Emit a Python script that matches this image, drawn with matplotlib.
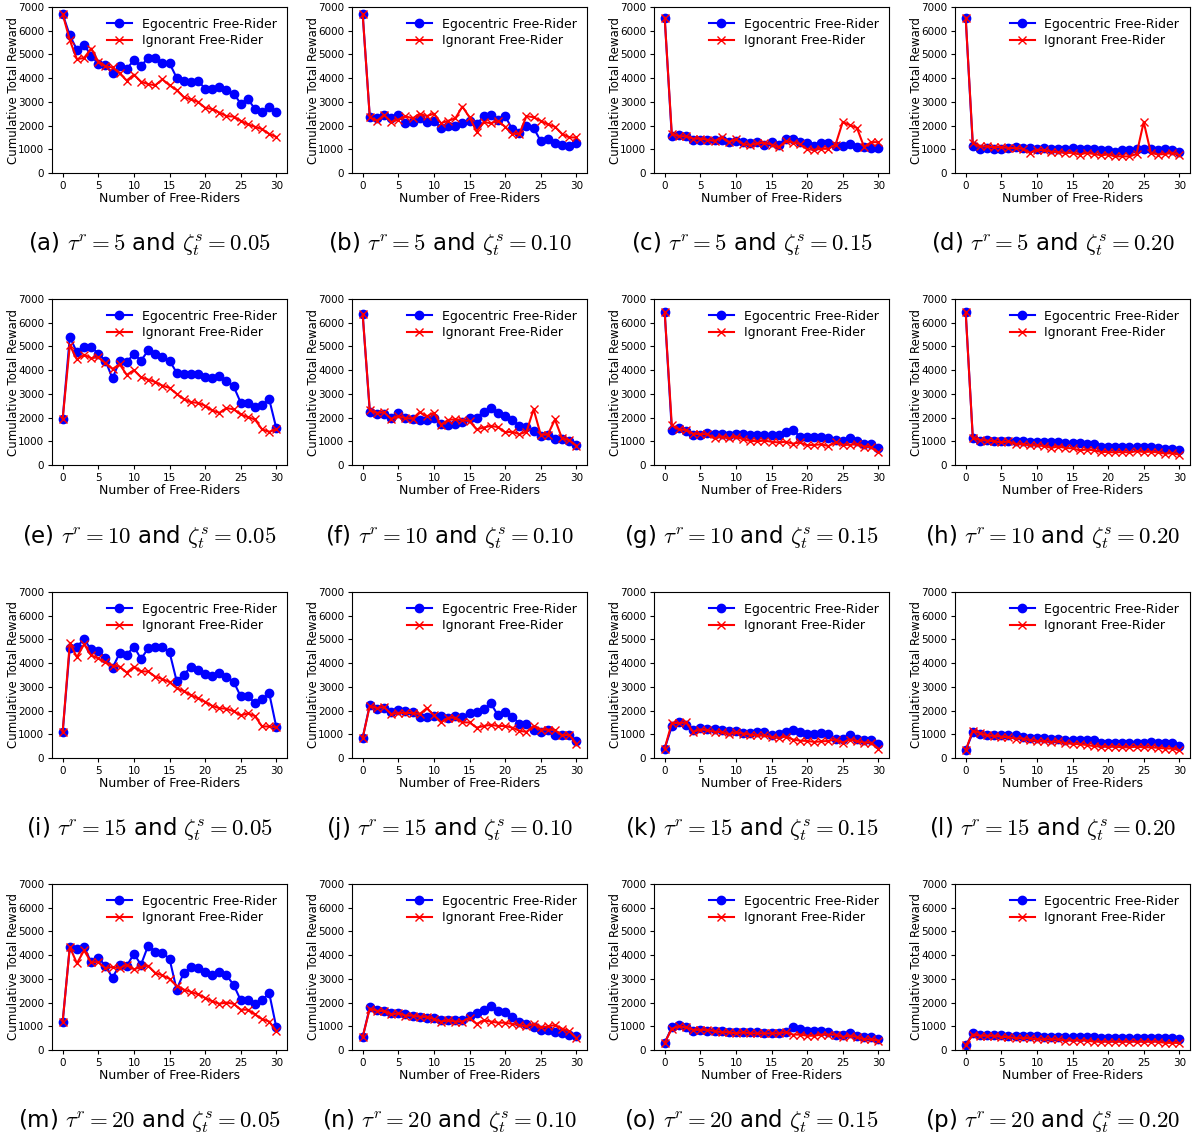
import numpy as np
import matplotlib
matplotlib.use('Agg')
from matplotlib import pyplot as plt

plt.rcParams['mathtext.fontset'] = 'cm'

## Data ##
x = np.arange(31)

# (a) tau=5, zeta=0.05
ego_a = [6700, 5800, 5200, 5400, 4950, 4600, 4550, 4200, 4500, 4400, 4750, 4500, 4870, 4830, 4650, 4630,
         4020, 3900, 3850, 3900, 3550, 3560, 3620, 3480, 3350, 2930, 3120, 2700, 2560, 2790, 2580]
ign_a = [6700, 5600, 4800, 4850, 5250, 4700, 4500, 4450, 4200, 3900, 4150, 3850, 3750, 3700, 3950, 3700,
         3500, 3200, 3100, 3000, 2750, 2700, 2550, 2400, 2380, 2200, 2050, 1950, 1850, 1650, 1520]
# (b) tau=5, zeta=0.10
ego_b = [6700, 2350, 2300, 2450, 2300, 2450, 2100, 2150, 2300, 2150, 2200, 1900, 1980, 2000, 2100, 2200,
         2050, 2400, 2450, 2250, 2400, 1850, 1700, 2000, 1900, 1350, 1450, 1250, 1200, 1150, 1280]
ign_b = [6700, 2350, 2200, 2450, 2150, 2250, 2400, 2300, 2500, 2400, 2500, 2100, 2200, 2300, 2800, 2350,
         1750, 2150, 2100, 2200, 1950, 1650, 1650, 2400, 2350, 2200, 2050, 1950, 1650, 1500, 1500]
# (c) tau=5, zeta=0.15
ego_c = [6550, 1550, 1600, 1550, 1400, 1380, 1400, 1380, 1380, 1300, 1350, 1300, 1280, 1300, 1180, 1300,
         1200, 1450, 1450, 1320, 1280, 1150, 1280, 1280, 1150, 1130, 1220, 1080, 1080, 1050, 1050]
ign_c = [6550, 1650, 1550, 1550, 1450, 1450, 1400, 1350, 1500, 1300, 1420, 1220, 1180, 1250, 1280, 1200,
         1080, 1350, 1280, 1220, 1000, 980, 1020, 1020, 1200, 2150, 2020, 1900, 1100, 1300, 1300]
# (d) tau=5, zeta=0.20
ego_d = [6550, 1150, 1020, 1050, 1020, 1020, 1050, 1080, 1050, 1050, 1020, 1050, 1020, 1000, 1020, 1050,
         1000, 1020, 1000, 950, 950, 900, 950, 950, 1000, 1000, 1000, 980, 1000, 980, 870]
ign_d = [6550, 1250, 1120, 1120, 1080, 1100, 1050, 1050, 1020, 850, 980, 950, 900, 880, 850, 850,
         780, 850, 800, 750, 780, 700, 700, 700, 800, 2150, 850, 780, 800, 850, 750]
# (e) tau=10, zeta=0.05
ego_e = [1950, 5400, 4750, 4980, 4980, 4700, 4400, 3650, 4400, 4350, 4680, 4400, 4830, 4680, 4550, 4400,
         3900, 3820, 3820, 3830, 3700, 3650, 3760, 3530, 3320, 2630, 2620, 2430, 2540, 2770, 1550]
ign_e = [1950, 5050, 4450, 4650, 4500, 4550, 4300, 4050, 4250, 3800, 4000, 3700, 3600, 3500, 3350, 3250,
         3000, 2780, 2650, 2620, 2500, 2300, 2200, 2400, 2350, 2130, 2020, 1920, 1500, 1400, 1500]
# (f) tau=10, zeta=0.10
ego_f = [6350, 2230, 2150, 2150, 2000, 2200, 2000, 1950, 1900, 1880, 2000, 1720, 1700, 1750, 1800, 2000,
         2000, 2250, 2420, 2180, 2070, 1900, 1650, 1600, 1420, 1230, 1270, 1100, 1080, 1000, 830]
ign_f = [6350, 2300, 2200, 2220, 1950, 2050, 1980, 1950, 2230, 2050, 2200, 1700, 1900, 1930, 1900, 1850,
         1500, 1580, 1650, 1600, 1380, 1400, 1300, 1400, 2350, 1280, 1280, 1920, 1120, 1050, 820]
# (g) tau=10, zeta=0.15
ego_g = [6450, 1480, 1560, 1450, 1280, 1250, 1350, 1320, 1300, 1250, 1300, 1320, 1280, 1280, 1250, 1250,
         1250, 1400, 1480, 1200, 1200, 1180, 1200, 1130, 1050, 1030, 1150, 1000, 900, 880, 720]
ign_g = [6450, 1680, 1500, 1480, 1320, 1300, 1300, 1120, 1200, 1120, 1200, 1080, 1020, 1000, 1030, 980,
         950, 980, 900, 950, 830, 850, 870, 800, 950, 850, 850, 880, 780, 750, 530]
# (h) tau=10, zeta=0.20
ego_h = [6450, 1150, 1030, 1050, 1000, 1000, 1000, 1000, 1000, 980, 980, 980, 950, 950, 920, 920,
         920, 900, 880, 780, 750, 750, 750, 750, 750, 750, 770, 700, 680, 680, 620]
ign_h = [6450, 1150, 1050, 1030, 1000, 950, 1000, 880, 880, 830, 830, 800, 720, 780, 720, 700,
         620, 650, 620, 550, 550, 530, 550, 530, 580, 550, 560, 530, 480, 500, 430]
# (i) tau=15, zeta=0.05
ego_i = [1100, 4650, 4700, 5000, 4580, 4500, 4230, 3800, 4420, 4350, 4700, 4180, 4620, 4680, 4680, 4470,
         3250, 3520, 3830, 3700, 3560, 3470, 3600, 3430, 3220, 2600, 2600, 2330, 2480, 2730, 1300]
ign_i = [1100, 4850, 4250, 4800, 4330, 4200, 4030, 3900, 3850, 3600, 3850, 3650, 3650, 3430, 3330, 3200,
         2950, 2820, 2650, 2520, 2370, 2200, 2100, 2080, 1970, 1800, 1880, 1770, 1330, 1330, 1300]
# (j) tau=15, zeta=0.10
ego_j = [850, 2250, 2050, 2120, 1950, 2030, 2000, 1950, 1750, 1750, 1780, 1780, 1680, 1780, 1750, 1900,
         1920, 2050, 2300, 1800, 1950, 1750, 1450, 1430, 1200, 1100, 1170, 970, 950, 950, 700]
ign_j = [850, 2200, 2100, 2150, 1850, 1900, 1900, 1900, 1850, 2100, 1800, 1500, 1700, 1700, 1500, 1500,
         1280, 1350, 1400, 1350, 1350, 1280, 1150, 1100, 1350, 1200, 1200, 1180, 950, 980, 600]
# (k) tau=15, zeta=0.15
ego_k = [400, 1330, 1530, 1400, 1200, 1270, 1230, 1230, 1200, 1130, 1150, 1070, 1070, 1100, 1080, 980,
         1020, 1100, 1180, 1100, 1030, 1020, 1070, 1020, 800, 800, 950, 800, 750, 750, 600]
ign_k = [400, 1480, 1470, 1500, 1100, 1200, 1180, 1100, 1100, 1000, 1080, 1030, 980, 950, 950, 880,
         850, 900, 780, 730, 720, 680, 700, 720, 780, 650, 780, 700, 650, 650, 400]
# (l) tau=15, zeta=0.20
ego_l = [320, 1080, 1000, 980, 980, 950, 980, 950, 880, 850, 850, 850, 820, 800, 780, 780,
         770, 750, 750, 650, 650, 650, 650, 650, 650, 650, 670, 650, 630, 620, 520]
ign_l = [320, 1150, 1050, 950, 930, 900, 870, 820, 820, 750, 720, 700, 680, 700, 620, 600,
         580, 550, 500, 480, 470, 480, 450, 450, 480, 450, 450, 430, 400, 400, 330]
# (m) tau=20, zeta=0.05
ego_m = [1200, 4350, 4250, 4350, 3700, 3900, 3550, 3050, 3600, 3550, 4050, 3600, 4400, 4150, 4100, 3850,
         2550, 3250, 3500, 3450, 3300, 3150, 3300, 3150, 2750, 2100, 2100, 1950, 2100, 2400, 950]
ign_m = [1200, 4350, 3650, 4200, 3700, 3700, 3450, 3500, 3450, 3600, 3400, 3500, 3550, 3250, 3150, 3000,
         2700, 2550, 2450, 2350, 2200, 2050, 1950, 2000, 1950, 1700, 1700, 1500, 1300, 1200, 800]
# (n) tau=20, zeta=0.10
ego_n = [550, 1800, 1700, 1650, 1550, 1550, 1500, 1450, 1400, 1350, 1350, 1250, 1250, 1250, 1250, 1450,
         1550, 1700, 1850, 1650, 1600, 1400, 1200, 1100, 950, 850, 850, 750, 700, 650, 600]
ign_n = [550, 1750, 1650, 1650, 1500, 1550, 1450, 1450, 1400, 1400, 1300, 1200, 1250, 1200, 1200, 1350,
         1100, 1250, 1200, 1150, 1150, 1100, 1050, 1000, 1100, 950, 1000, 1050, 900, 800, 500]
# (o) tau=20, zeta=0.15
ego_o = [300, 950, 1050, 950, 800, 850, 800, 800, 800, 750, 750, 750, 750, 750, 700, 700,
         700, 750, 950, 900, 800, 800, 800, 750, 650, 650, 700, 600, 550, 550, 450]
ign_o = [300, 900, 1000, 950, 850, 850, 850, 800, 750, 750, 700, 750, 700, 700, 700, 700,
         700, 750, 650, 650, 600, 600, 650, 650, 650, 550, 600, 550, 450, 450, 400]
# (p) tau=20, zeta=0.20
ego_p = [200, 700, 650, 650, 650, 650, 600, 600, 600, 600, 600, 550, 550, 550, 550, 550,
         550, 550, 550, 500, 500, 500, 500, 500, 500, 500, 500, 500, 500, 500, 450]
ign_p = [200, 650, 600, 600, 600, 550, 550, 500, 500, 500, 450, 450, 450, 450, 400, 400,
         400, 400, 350, 350, 350, 350, 350, 350, 350, 350, 350, 350, 300, 300, 300]

ego_all = [ego_a, ego_b, ego_c, ego_d, ego_e, ego_f, ego_g, ego_h,
           ego_i, ego_j, ego_k, ego_l, ego_m, ego_n, ego_o, ego_p]
ign_all = [ign_a, ign_b, ign_c, ign_d, ign_e, ign_f, ign_g, ign_h,
           ign_i, ign_j, ign_k, ign_l, ign_m, ign_n, ign_o, ign_p]
taus = [5, 10, 15, 20]
zetas = ['0.05', '0.10', '0.15', '0.20']
letters = 'abcdefghijklmnop'

## Figure ##
W, H = 1195, 1137
fig = plt.figure(figsize=(W/100, H/100), dpi=100)

col_left = [52, 352, 654, 955]
row_top = [7, 299, 592, 884]
ax_w, ax_h = 235, 166
cap_y = [244, 537, 829, 1121]

for r in range(4):
    for c in range(4):
        k = r*4 + c
        ax = fig.add_axes([col_left[c]/W, 1 - (row_top[r] + ax_h)/H, ax_w/W, ax_h/H])
        ax.plot(x, ego_all[k], color='blue', marker='o', markersize=6, linewidth=1.5,
                label='Egocentric Free-Rider')
        ax.plot(x, ign_all[k], color='red', marker='x', markersize=6, linewidth=1.5,
                label='Ignorant Free-Rider')
        ax.set_ylim(0, 7000)
        ax.set_yticks(range(0, 7001, 1000))
        ax.set_xticks(range(0, 31, 5))
        ax.tick_params(labelsize=7.5, length=3, pad=2.5)
        ax.set_xlabel('Number of Free-Riders', fontsize=9, labelpad=1)
        ax.set_ylabel('Cumulative Total Reward', fontsize=8.5)
        ax.yaxis.set_label_coords(-0.135, 0.5)
        ax.legend(loc='upper right', fontsize=9, frameon=False, borderaxespad=0.45,
                  handlelength=2, labelspacing=0.3)
        cx = (col_left[c] + ax_w/2 - 20)/W
        fig.text(cx, 1 - cap_y[r]/H,
                 '(%s) $\\tau^r = %d$ and $\\zeta_t^s = %s$' % (letters[k], taus[r], zetas[c]),
                 ha='center', va='center', fontsize=16.5)

plt.savefig('out.png', dpi=100)
